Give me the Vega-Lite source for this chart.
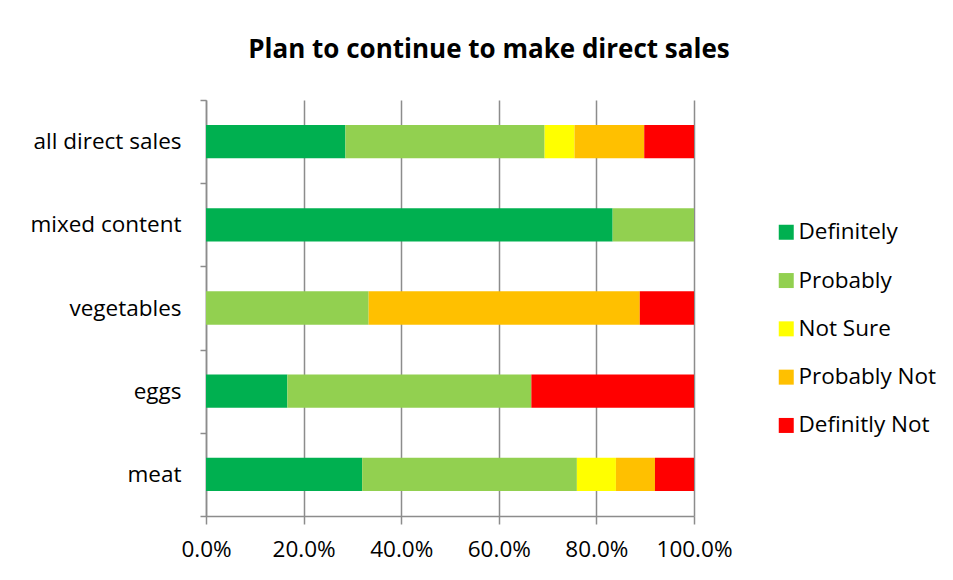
{
  "$schema": "https://vega.github.io/schema/vega-lite/v6.json",
  "width": 488,
  "height": 416,
  "autosize": {"type": "none"},
  "padding": {"left": 206, "top": 100, "right": 259, "bottom": 64},
  "background": "white",
  "title": {
    "text": "Plan to continue to make direct sales",
    "font": "Open Sans",
    "fontSize": 26,
    "fontWeight": "bold",
    "color": "#000000",
    "anchor": "middle",
    "frame": "group",
    "dx": 39,
    "offset": 26
  },
  "data": {
    "values": [
      {"group": "all direct sales", "answer": "Definitely", "order": 1, "share": 0.2857},
      {"group": "all direct sales", "answer": "Probably", "order": 2, "share": 0.4082},
      {"group": "all direct sales", "answer": "Not Sure", "order": 3, "share": 0.0612},
      {"group": "all direct sales", "answer": "Probably Not", "order": 4, "share": 0.1429},
      {"group": "all direct sales", "answer": "Definitly Not", "order": 5, "share": 0.1020},
      {"group": "mixed content", "answer": "Definitely", "order": 1, "share": 0.8333},
      {"group": "mixed content", "answer": "Probably", "order": 2, "share": 0.1667},
      {"group": "vegetables", "answer": "Probably", "order": 2, "share": 0.3333},
      {"group": "vegetables", "answer": "Probably Not", "order": 4, "share": 0.5556},
      {"group": "vegetables", "answer": "Definitly Not", "order": 5, "share": 0.1111},
      {"group": "eggs", "answer": "Definitely", "order": 1, "share": 0.1667},
      {"group": "eggs", "answer": "Probably", "order": 2, "share": 0.5},
      {"group": "eggs", "answer": "Definitly Not", "order": 5, "share": 0.3333},
      {"group": "meat", "answer": "Definitely", "order": 1, "share": 0.32},
      {"group": "meat", "answer": "Probably", "order": 2, "share": 0.44},
      {"group": "meat", "answer": "Not Sure", "order": 3, "share": 0.08},
      {"group": "meat", "answer": "Probably Not", "order": 4, "share": 0.08},
      {"group": "meat", "answer": "Definitly Not", "order": 5, "share": 0.08}
    ]
  },
  "mark": {"type": "bar", "height": {"band": 0.4}},
  "encoding": {
    "y": {
      "field": "group",
      "type": "nominal",
      "sort": ["all direct sales", "mixed content", "vegetables", "eggs", "meat"],
      "scale": {"paddingInner": 0, "paddingOuter": 0},
      "axis": {
        "title": null,
        "domainColor": "#8c8c8c",
        "domainWidth": 1.5,
        "tickColor": "#8c8c8c",
        "tickWidth": 1.5,
        "tickSize": 6,
        "tickBand": "extent",
        "labelFont": "Open Sans",
        "labelFontSize": 22.5,
        "labelColor": "#000000",
        "labelPadding": 19,
        "grid": false
      }
    },
    "x": {
      "field": "share",
      "type": "quantitative",
      "stack": "zero",
      "scale": {"domain": [0, 1], "nice": false},
      "axis": {
        "title": null,
        "format": ".1%",
        "values": [0, 0.2, 0.4, 0.6, 0.8, 1],
        "grid": true,
        "gridColor": "#8c8c8c",
        "gridWidth": 1.5,
        "domainColor": "#8c8c8c",
        "domainWidth": 1.5,
        "tickColor": "#8c8c8c",
        "tickWidth": 1.5,
        "tickSize": 8,
        "labelFont": "Open Sans",
        "labelFontSize": 22.5,
        "labelColor": "#000000",
        "labelPadding": 14,
        "labelFlush": false
      }
    },
    "color": {
      "field": "answer",
      "type": "nominal",
      "scale": {
        "domain": ["Definitely", "Probably", "Not Sure", "Probably Not", "Definitly Not"],
        "range": ["#00b050", "#92d050", "#ffff00", "#ffc000", "#ff0000"]
      },
      "legend": {
        "title": null,
        "orient": "none",
        "legendX": 569,
        "legendY": 121,
        "symbolType": "square",
        "symbolSize": 225,
        "symbolStrokeWidth": 0,
        "labelFont": "Open Sans",
        "labelFontSize": 22.5,
        "labelColor": "#000000",
        "labelOffset": 1,
        "rowPadding": 25.3
      }
    },
    "order": {"field": "order", "type": "quantitative"}
  },
  "config": {
    "view": {"stroke": null},
    "axis": {"gridOpacity": 1}
  }
}
